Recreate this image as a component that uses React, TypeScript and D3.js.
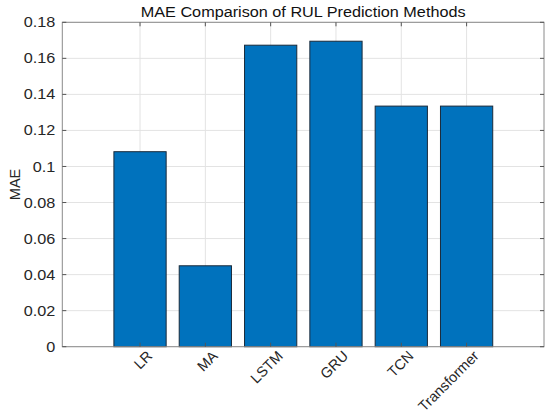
import React from 'react';
import * as d3 from 'd3';

const categories = ['LR', 'MA', 'LSTM', 'GRU', 'TCN', 'Transformer'];
const maeValues = [0.1082, 0.0449, 0.1673, 0.1695, 0.1335, 0.1335];
const yTicks = [0, 0.02, 0.04, 0.06, 0.08, 0.1, 0.12, 0.14, 0.16, 0.18];
const titleText = 'MAE Comparison of RUL Prediction Methods';
const yLabelText = 'MAE';

const W = 550;
const H = 417;
const m = { left: 62.3, right: 6, top: 22.3, bottom: 70.3 };

export default function App() {
  const x = d3
    .scaleLinear()
    .domain([-0.19, categories.length + 1.185])
    .range([m.left, W - m.right]);
  const y = d3.scaleLinear().domain([0, 0.18]).range([H - m.bottom, m.top]);
  const bw = x(0.8) - x(0);
  const font = "'Liberation Sans', Arial, Helvetica, sans-serif";
  const x0 = m.left;
  const x1 = W - m.right;
  const y0 = H - m.bottom;
  const y1 = m.top;
  const positions = categories.map((_, i) => i + 1);

  return (
    <svg
      width={W}
      height={H}
      style={{ position: 'absolute', left: 0, top: 0, background: '#fff' }}
      fontFamily={font}
    >
      <rect x={0} y={0} width={W} height={H} fill="#fff" />
      {/* grid */}
      {yTicks.map((t) => (
        <line key={'gy' + t} x1={x0} x2={x1} y1={y(t)} y2={y(t)} stroke="#e3e3e3" strokeWidth={1} />
      ))}
      {positions.map((p) => (
        <line key={'gx' + p} x1={x(p)} x2={x(p)} y1={y0} y2={y1} stroke="#e3e3e3" strokeWidth={1} />
      ))}
      {/* bars */}
      {maeValues.map((v, i) => (
        <rect
          key={categories[i]}
          x={x(positions[i]) - bw / 2}
          y={y(v)}
          width={bw}
          height={y(0) - y(v)}
          fill="#0072BD"
          stroke="#1a2a3a"
          strokeWidth={1}
        />
      ))}
      {/* box */}
      <rect x={x0} y={y1} width={x1 - x0} height={y0 - y1} fill="none" stroke="#8a8a8a" strokeWidth={1} />
      {/* ticks */}
      {yTicks.map((t) => (
        <g key={'ty' + t}>
          <line x1={x0} x2={x0 + 4} y1={y(t)} y2={y(t)} stroke="#555" />
          <line x1={x1} x2={x1 - 4} y1={y(t)} y2={y(t)} stroke="#555" />
          <g transform={`translate(${x0 - 7},${y(t)}) scale(1.16,1)`}>
            <text dy="0.36em" textAnchor="end" fontSize={14} fill="#262626">
              {d3.format('~g')(t)}
            </text>
          </g>
        </g>
      ))}
      {positions.map((p, i) => (
        <g key={'tx' + p}>
          <line x1={x(p)} x2={x(p)} y1={y0} y2={y0 - 4} stroke="#555" />
          <line x1={x(p)} x2={x(p)} y1={y1} y2={y1 + 4} stroke="#555" />
          <text
            transform={`translate(${x(p) + 6},${y0 + 3}) rotate(-45)`}
            textAnchor="end"
            dy="0.7em"
            fontSize={14.5}
            fill="#262626"
          >
            {categories[i]}
          </text>
        </g>
      ))}
      {/* title */}
      <g transform={`translate(${(x0 + x1) / 2},17) scale(1.12,1)`}>
        <text textAnchor="middle" fontSize={14.5} fill="#111">
          {titleText}
        </text>
      </g>
      {/* y label */}
      <text
        transform={`translate(20,${(y0 + y1) / 2}) rotate(-90)`}
        textAnchor="middle"
        fontSize={14.5}
        fill="#262626"
      >
        {yLabelText}
      </text>
    </svg>
  );
}
